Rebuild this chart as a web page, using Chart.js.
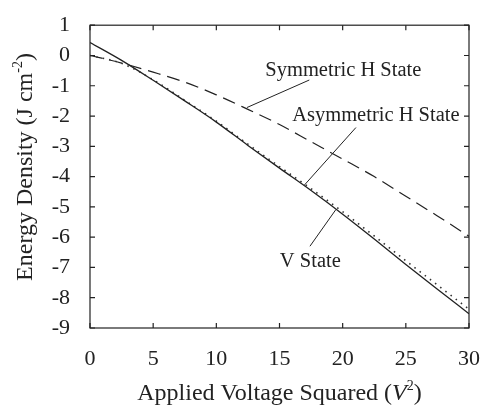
<!DOCTYPE html>
<html>
<head>
<meta charset="utf-8">
<script src="https://cdn.jsdelivr.net/npm/chart.js@4"></script>
<style>
  html, body { margin: 0; padding: 0; background: #fff; }
  #wrap { width: 490px; height: 406px; }
</style>
</head>
<body>
<div id="wrap"><canvas id="energy"></canvas></div>
<script>
// applied voltage squared (V^2)
const voltageSq = [0, 2.5, 5, 7.5, 10, 12.5, 15, 17.5, 20, 22.5, 25, 27.5, 30];
// energy density (J cm^-2) for each state
const vState = [0.43, -0.16, -0.82, -1.5, -2.2, -2.97, -3.72, -4.46, -5.24, -6.06, -6.9, -7.72, -8.53];
const asymHState = [0, -0.26, -0.8, -1.48, -2.17, -2.93, -3.67, -4.4, -5.16, -5.96, -6.78, -7.58, -8.38];
const symHState = [0, -0.25, -0.55, -0.88, -1.3, -1.78, -2.28, -2.85, -3.42, -4.0, -4.65, -5.3, -5.97];
const xTicks = [0, 5, 10, 15, 20, 25, 30];
const yTicks = [1, 0, -1, -2, -3, -4, -5, -6, -7, -8, -9];

// callout labels with leader lines, in data units
const callouts = [
  { text: 'Symmetric H State', at: [20.05, -0.68], line: [[17.36, -0.81], [12.42, -1.72]] },
  { text: 'Asymmetric H State', at: [22.63, -2.18], line: [[21.05, -2.38], [16.97, -4.28]] },
  { text: 'V State', at: [17.44, -6.99], line: [[17.41, -6.3], [19.46, -5.09]] }
];

const serif = '"Liberation Serif", "Times New Roman", serif';
const ink = '#222';

const pts = ys => voltageSq.map((x, i) => ({ x: x, y: ys[i] }));

// draw a run of [text, font, rise] pieces starting at (x0, y0)
function drawRun(ctx, parts, x0, y0) {
  let cx = x0;
  parts.forEach(p => {
    ctx.font = p[1];
    ctx.fillText(p[0], cx, y0 + p[2]);
    cx += ctx.measureText(p[0]).width;
  });
}
function runWidth(ctx, parts) {
  let w = 0;
  parts.forEach(p => { ctx.font = p[1]; w += ctx.measureText(p[0]).width; });
  return w;
}

// frame, inward ticks, callouts and axis titles
const decor = {
  id: 'decor',
  afterDraw(chart) {
    const { ctx, chartArea: a, scales: { x, y } } = chart;
    ctx.save();
    ctx.strokeStyle = ink;
    ctx.lineWidth = 1.2;
    ctx.strokeRect(a.left, a.top, a.right - a.left, a.bottom - a.top);
    const t = 5;
    ctx.beginPath();
    xTicks.forEach(v => {
      const px = x.getPixelForValue(v);
      ctx.moveTo(px, a.bottom); ctx.lineTo(px, a.bottom - t);
      ctx.moveTo(px, a.top); ctx.lineTo(px, a.top + t);
    });
    yTicks.forEach(v => {
      const py = y.getPixelForValue(v);
      ctx.moveTo(a.left, py); ctx.lineTo(a.left + t, py);
      ctx.moveTo(a.right, py); ctx.lineTo(a.right - t, py);
    });
    ctx.stroke();

    ctx.fillStyle = ink;
    ctx.font = '20.5px ' + serif;
    ctx.textAlign = 'center';
    ctx.textBaseline = 'alphabetic';
    ctx.lineWidth = 1;
    callouts.forEach(c => {
      ctx.fillText(c.text, x.getPixelForValue(c.at[0]), y.getPixelForValue(c.at[1]));
      ctx.beginPath();
      ctx.moveTo(x.getPixelForValue(c.line[0][0]), y.getPixelForValue(c.line[0][1]));
      ctx.lineTo(x.getPixelForValue(c.line[1][0]), y.getPixelForValue(c.line[1][1]));
      ctx.stroke();
    });

    ctx.textAlign = 'left';
    const big = '24px ' + serif, sup = '14px ' + serif;

    // x title: Applied Voltage Squared (V^2)
    const xparts = [
      ['Applied Voltage Squared (', big, 0],
      ['V', 'italic ' + big, 0],
      ['2', sup, -10],
      [')', big, 0]
    ];
    drawRun(ctx, xparts, (a.left + a.right) / 2 - runWidth(ctx, xparts) / 2, 400);

    // y title: Energy Density (J cm^-2)
    const yparts = [
      ['Energy Density (J cm', big, 0],
      ['-2', sup, -10],
      [')', big, 0]
    ];
    const w = runWidth(ctx, yparts);
    ctx.translate(32, 167);
    ctx.rotate(-Math.PI / 2);
    drawRun(ctx, yparts, -w / 2, 0);
    ctx.restore();
  }
};

new Chart(document.getElementById('energy'), {
  type: 'line',
  data: {
    datasets: [
      {
        label: 'V State',
        data: pts(vState),
        borderColor: ink,
        borderWidth: 1.3,
        pointRadius: 0,
        cubicInterpolationMode: 'monotone'
      },
      {
        label: 'Asymmetric H State',
        data: pts(asymHState),
        borderColor: '#333',
        borderWidth: 1.6,
        borderDash: [1.5, 5],
        pointRadius: 0,
        cubicInterpolationMode: 'monotone'
      },
      {
        label: 'Symmetric H State',
        data: pts(symHState),
        borderColor: ink,
        borderWidth: 1.2,
        borderDash: [13, 7],
        pointRadius: 0,
        cubicInterpolationMode: 'monotone'
      }
    ]
  },
  options: {
    responsive: true,
    maintainAspectRatio: false,
    animation: false,
    layout: { padding: { top: 18, right: 20, left: 0, bottom: 0 } },
    plugins: {
      legend: { display: false },
      tooltip: { enabled: false }
    },
    scales: {
      x: {
        type: 'linear',
        min: 0,
        max: 30,
        grid: { display: false },
        border: { display: false },
        afterBuildTicks: s => { s.ticks = xTicks.map(v => ({ value: v })); },
        ticks: { color: ink, font: { family: serif, size: 22 }, padding: 10, maxRotation: 0 },
        afterFit: s => { s.height = 78; }
      },
      y: {
        type: 'linear',
        min: -9,
        max: 1,
        grid: { display: false },
        border: { display: false },
        afterBuildTicks: s => { s.ticks = yTicks.map(v => ({ value: v })); },
        ticks: { color: ink, font: { family: serif, size: 22 }, padding: 12 },
        afterFit: s => { s.width = 90; }
      }
    }
  },
  plugins: [decor]
});
</script>
</body>
</html>
